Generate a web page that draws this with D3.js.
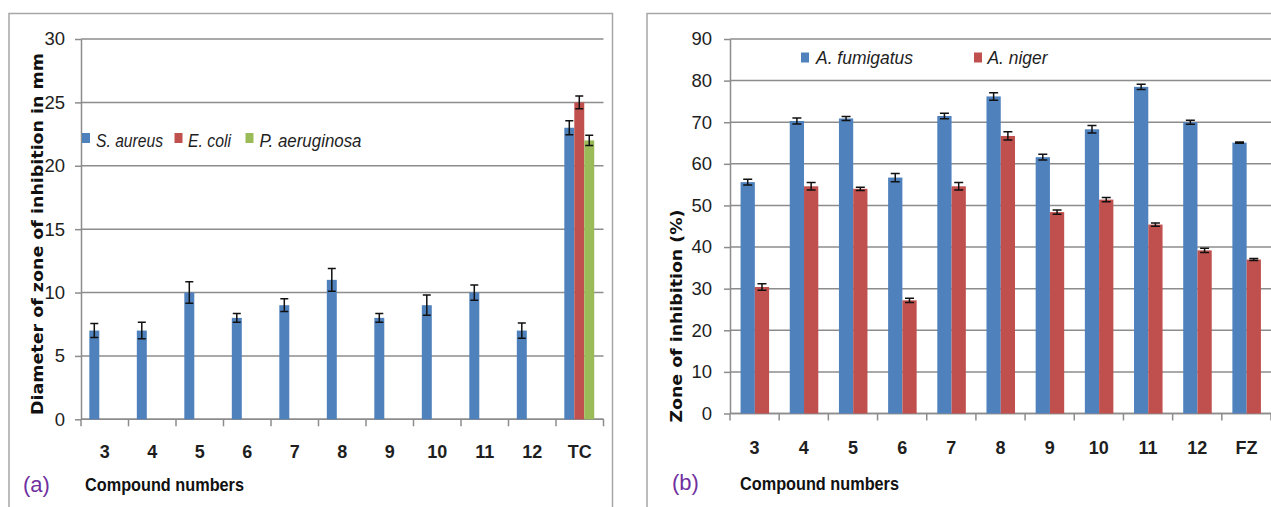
<!DOCTYPE html>
<html>
<head>
<meta charset="utf-8">
<script src="https://cdn.jsdelivr.net/npm/d3@7"></script>
<style>
  html, body { margin: 0; padding: 0; background: #fff; }
  svg { display: block; }
</style>
</head>
<body>
<svg id="chart" width="1271" height="507"></svg>
<script>
// ---------- Panel (a) data ----------
const leftCategories = ["3", "4", "5", "6", "7", "8", "9", "10", "11", "12", "TC"];
const leftSeriesNames = ["S. aureus", "E. coli", "P. aeruginosa"];
const sAureus = [7, 7, 10, 8, 9, 11, 8, 9, 10, 7, 23];
const sAureusErr = [0.55, 0.65, 0.85, 0.35, 0.5, 0.9, 0.35, 0.8, 0.6, 0.6, 0.55];
const eColi = [null, null, null, null, null, null, null, null, null, null, 25];
const eColiErr = [null, null, null, null, null, null, null, null, null, null, 0.5];
const pAeruginosa = [null, null, null, null, null, null, null, null, null, null, 22];
const pAeruginosaErr = [null, null, null, null, null, null, null, null, null, null, 0.4];
const leftTicks = [0, 5, 10, 15, 20, 25, 30];
const leftYTitle = "Diameter of zone of inhibition in mm";

// ---------- Panel (b) data ----------
const rightCategories = ["3", "4", "5", "6", "7", "8", "9", "10", "11", "12", "FZ"];
const rightSeriesNames = ["A. fumigatus", "A. niger"];
const aFumigatus = [55.6, 70.3, 70.9, 56.7, 71.5, 76.2, 61.6, 68.3, 78.5, 70.0, 65.1];
const aFumigatusErr = [0.7, 0.7, 0.5, 1.0, 0.65, 0.9, 0.7, 0.9, 0.65, 0.5, 0.15];
const aNiger = [30.4, 54.6, 54.0, 27.2, 54.6, 66.7, 48.4, 51.4, 45.4, 39.2, 37.0];
const aNigerErr = [0.8, 0.9, 0.4, 0.5, 0.9, 1.0, 0.5, 0.5, 0.4, 0.5, 0.25];
const rightTicks = [0, 10, 20, 30, 40, 50, 60, 70, 80, 90];
const rightYTitle = "Zone of inhibition  (%)";

const xTitle = "Compound numbers";
const blue = "#4F81BD", red = "#C0504D", green = "#9BBB59";
const gridColor = "#8c8c8c";
const textColor = "#1e1e1e";
const sansFont = "'Liberation Sans', Arial, sans-serif";
const titleFont = "'DejaVu Sans', Verdana, sans-serif";

const svg = d3.select("#chart");

function fitText(sel, width) {
  sel.attr("textLength", width).attr("lengthAdjust", "spacingAndGlyphs");
}

function drawPanel(opt) {
  const g = svg.append("g");
  // panel frame
  g.append("path")
    .attr("d", `M${opt.frame[0]},507 V${opt.frame[1]} H${opt.frame[2]} ${opt.frame[3] ? "V507" : ""}`)
    .attr("fill", "none").attr("stroke", "#a6a6a6").attr("stroke-width", 1.5);

  const x = d3.scaleBand().domain(opt.categories).range([opt.left, opt.right]).padding(0);
  const bw = x.bandwidth();
  const x1 = d3.scaleBand().domain(opt.seriesNames)
    .range([opt.groupStart * bw, opt.groupEnd * bw]).padding(0);
  const y = d3.scaleLinear().domain(opt.domain).range([opt.bottom, opt.top]);

  // gridlines
  g.append("g").selectAll("line").data(opt.ticks).join("line")
    .attr("x1", opt.left).attr("x2", opt.gridEnd)
    .attr("y1", d => y(d)).attr("y2", d => y(d))
    .attr("stroke", gridColor).attr("stroke-width", 1.5);

  // y axis
  const yAxis = g.append("g").attr("transform", `translate(${opt.left},0)`)
    .call(d3.axisLeft(y).tickValues(opt.ticks).tickSize(6).tickSizeOuter(0).tickPadding(opt.yPad));
  yAxis.select(".domain").attr("stroke", gridColor).attr("stroke-width", 1.5);
  yAxis.selectAll(".tick line").attr("stroke", gridColor).attr("stroke-width", 1.5);
  yAxis.selectAll("text").attr("font-family", sansFont).attr("font-size", 18.5)
    .attr("fill", textColor);

  // x axis line + boundary ticks
  g.append("line").attr("x1", opt.left).attr("x2", opt.right)
    .attr("y1", opt.bottom).attr("y2", opt.bottom)
    .attr("stroke", gridColor).attr("stroke-width", 1.5);
  const bounds = opt.categories.map(c => x(c)).concat([x(opt.categories[opt.categories.length - 1]) + bw]);
  g.append("g").selectAll("line").data(bounds).join("line")
    .attr("x1", d => d).attr("x2", d => d)
    .attr("y1", opt.bottom).attr("y2", opt.bottom + 7)
    .attr("stroke", gridColor).attr("stroke-width", 1.5);
  const xAxis = g.append("g").attr("transform", `translate(0,${opt.bottom})`)
    .call(d3.axisBottom(x).tickSize(0).tickPadding(opt.xPad));
  xAxis.select(".domain").remove();
  xAxis.selectAll("text").attr("font-family", sansFont).attr("font-size", 18)
    .attr("font-weight", "bold").attr("fill", textColor);

  // bars
  opt.series.forEach((s, si) => {
    const name = opt.seriesNames[si];
    const rows = opt.categories.map((c, i) => ({ c, v: s.values[i], e: s.errors[i] }))
      .filter(d => d.v != null);
    g.append("g").selectAll("rect").data(rows).join("rect")
      .attr("x", d => x(d.c) + x1(name))
      .attr("width", x1.bandwidth())
      .attr("y", d => y(d.v))
      .attr("height", d => y(0) - y(d.v))
      .attr("fill", s.color);
    const eb = g.append("g").attr("stroke", "#111").attr("stroke-width", 1.5).attr("fill", "none");
    const cx = d => x(d.c) + x1(name) + x1.bandwidth() / 2;
    eb.selectAll("path").data(rows).join("path")
      .attr("d", d => {
        const c = cx(d), t = y(d.v + d.e), b = y(d.v - d.e), h = opt.capHalf;
        return `M${c - h},${t} H${c + h} M${c},${t} V${b} M${c - h},${b} H${c + h}`;
      });
  });

  // legend
  opt.legend.forEach((l, i) => {
    g.append("rect").attr("x", l.sx).attr("y", l.sy).attr("width", 8).attr("height", 10)
      .attr("fill", opt.series[i].color);
    g.append("text").attr("x", l.tx).attr("y", l.ty)
      .attr("font-family", sansFont).attr("font-style", "italic").attr("font-size", l.fs)
      .attr("fill", textColor).text(opt.seriesNames[i])
      .call(fitText, l.w);
  });

  // y title
  g.append("text")
    .attr("transform", `translate(${opt.yTitleX},${opt.yTitleY}) rotate(-90)`)
    .attr("text-anchor", "middle").attr("dy", "0.36em")
    .attr("font-family", titleFont).attr("font-weight", "bold").attr("font-size", 16)
    .attr("fill", "#111").text(opt.yTitle)
    .call(fitText, opt.yTitleLen);

  // x title
  g.append("text").attr("x", opt.xTitleX).attr("y", opt.xTitleY)
    .attr("font-family", sansFont).attr("font-weight", "bold").attr("font-size", 19)
    .attr("fill", "#111").text(xTitle)
    .call(fitText, 159);

  // panel letter
  g.append("text").attr("x", opt.letterX).attr("y", opt.letterY)
    .attr("font-family", sansFont).attr("font-size", 22)
    .attr("fill", "#7030A0").text(opt.letter);
}

drawPanel({
  frame: [9, 13.5, 612.5, true],
  categories: leftCategories, seriesNames: leftSeriesNames,
  series: [
    { values: sAureus, errors: sAureusErr, color: blue },
    { values: eColi, errors: eColiErr, color: red },
    { values: pAeruginosa, errors: pAeruginosaErr, color: green }
  ],
  left: 81, right: 603.5, gridEnd: 603.5, top: 39, bottom: 419.3,
  domain: [0, 30], ticks: leftTicks, yPad: 10, xPad: 26,
  groupStart: 0.175, groupEnd: 0.805, capHalf: 4,
  legend: [
    { sx: 82, sy: 133, tx: 96, ty: 146.5, fs: 18, w: 67 },
    { sx: 174.5, sy: 133, tx: 188, ty: 146.5, fs: 18, w: 43 },
    { sx: 245.5, sy: 133, tx: 259.5, ty: 146.5, fs: 18, w: 102 }
  ],
  yTitle: leftYTitle, yTitleX: 37, yTitleY: 234, yTitleLen: 362,
  xTitleX: 85, xTitleY: 491,
  letter: "(a)", letterX: 23, letterY: 492
});

drawPanel({
  frame: [647, 13.5, 1275, false],
  categories: rightCategories, seriesNames: rightSeriesNames,
  series: [
    { values: aFumigatus, errors: aFumigatusErr, color: blue },
    { values: aNiger, errors: aNigerErr, color: red }
  ],
  left: 730, right: 1271, gridEnd: 1271, top: 39, bottom: 413.5,
  domain: [0, 90], ticks: rightTicks, yPad: 12, xPad: 28,
  groupStart: 0.215, groupEnd: 0.795, capHalf: 4.5,
  legend: [
    { sx: 801, sy: 52.5, tx: 816, ty: 64, fs: 19, w: 97 },
    { sx: 974, sy: 52.5, tx: 987.5, ty: 64, fs: 19, w: 60 }
  ],
  yTitle: rightYTitle, yTitleX: 676, yTitleY: 316, yTitleLen: 213,
  xTitleX: 740, xTitleY: 490,
  letter: "(b)", letterX: 672, letterY: 490
});
</script>
</body>
</html>
